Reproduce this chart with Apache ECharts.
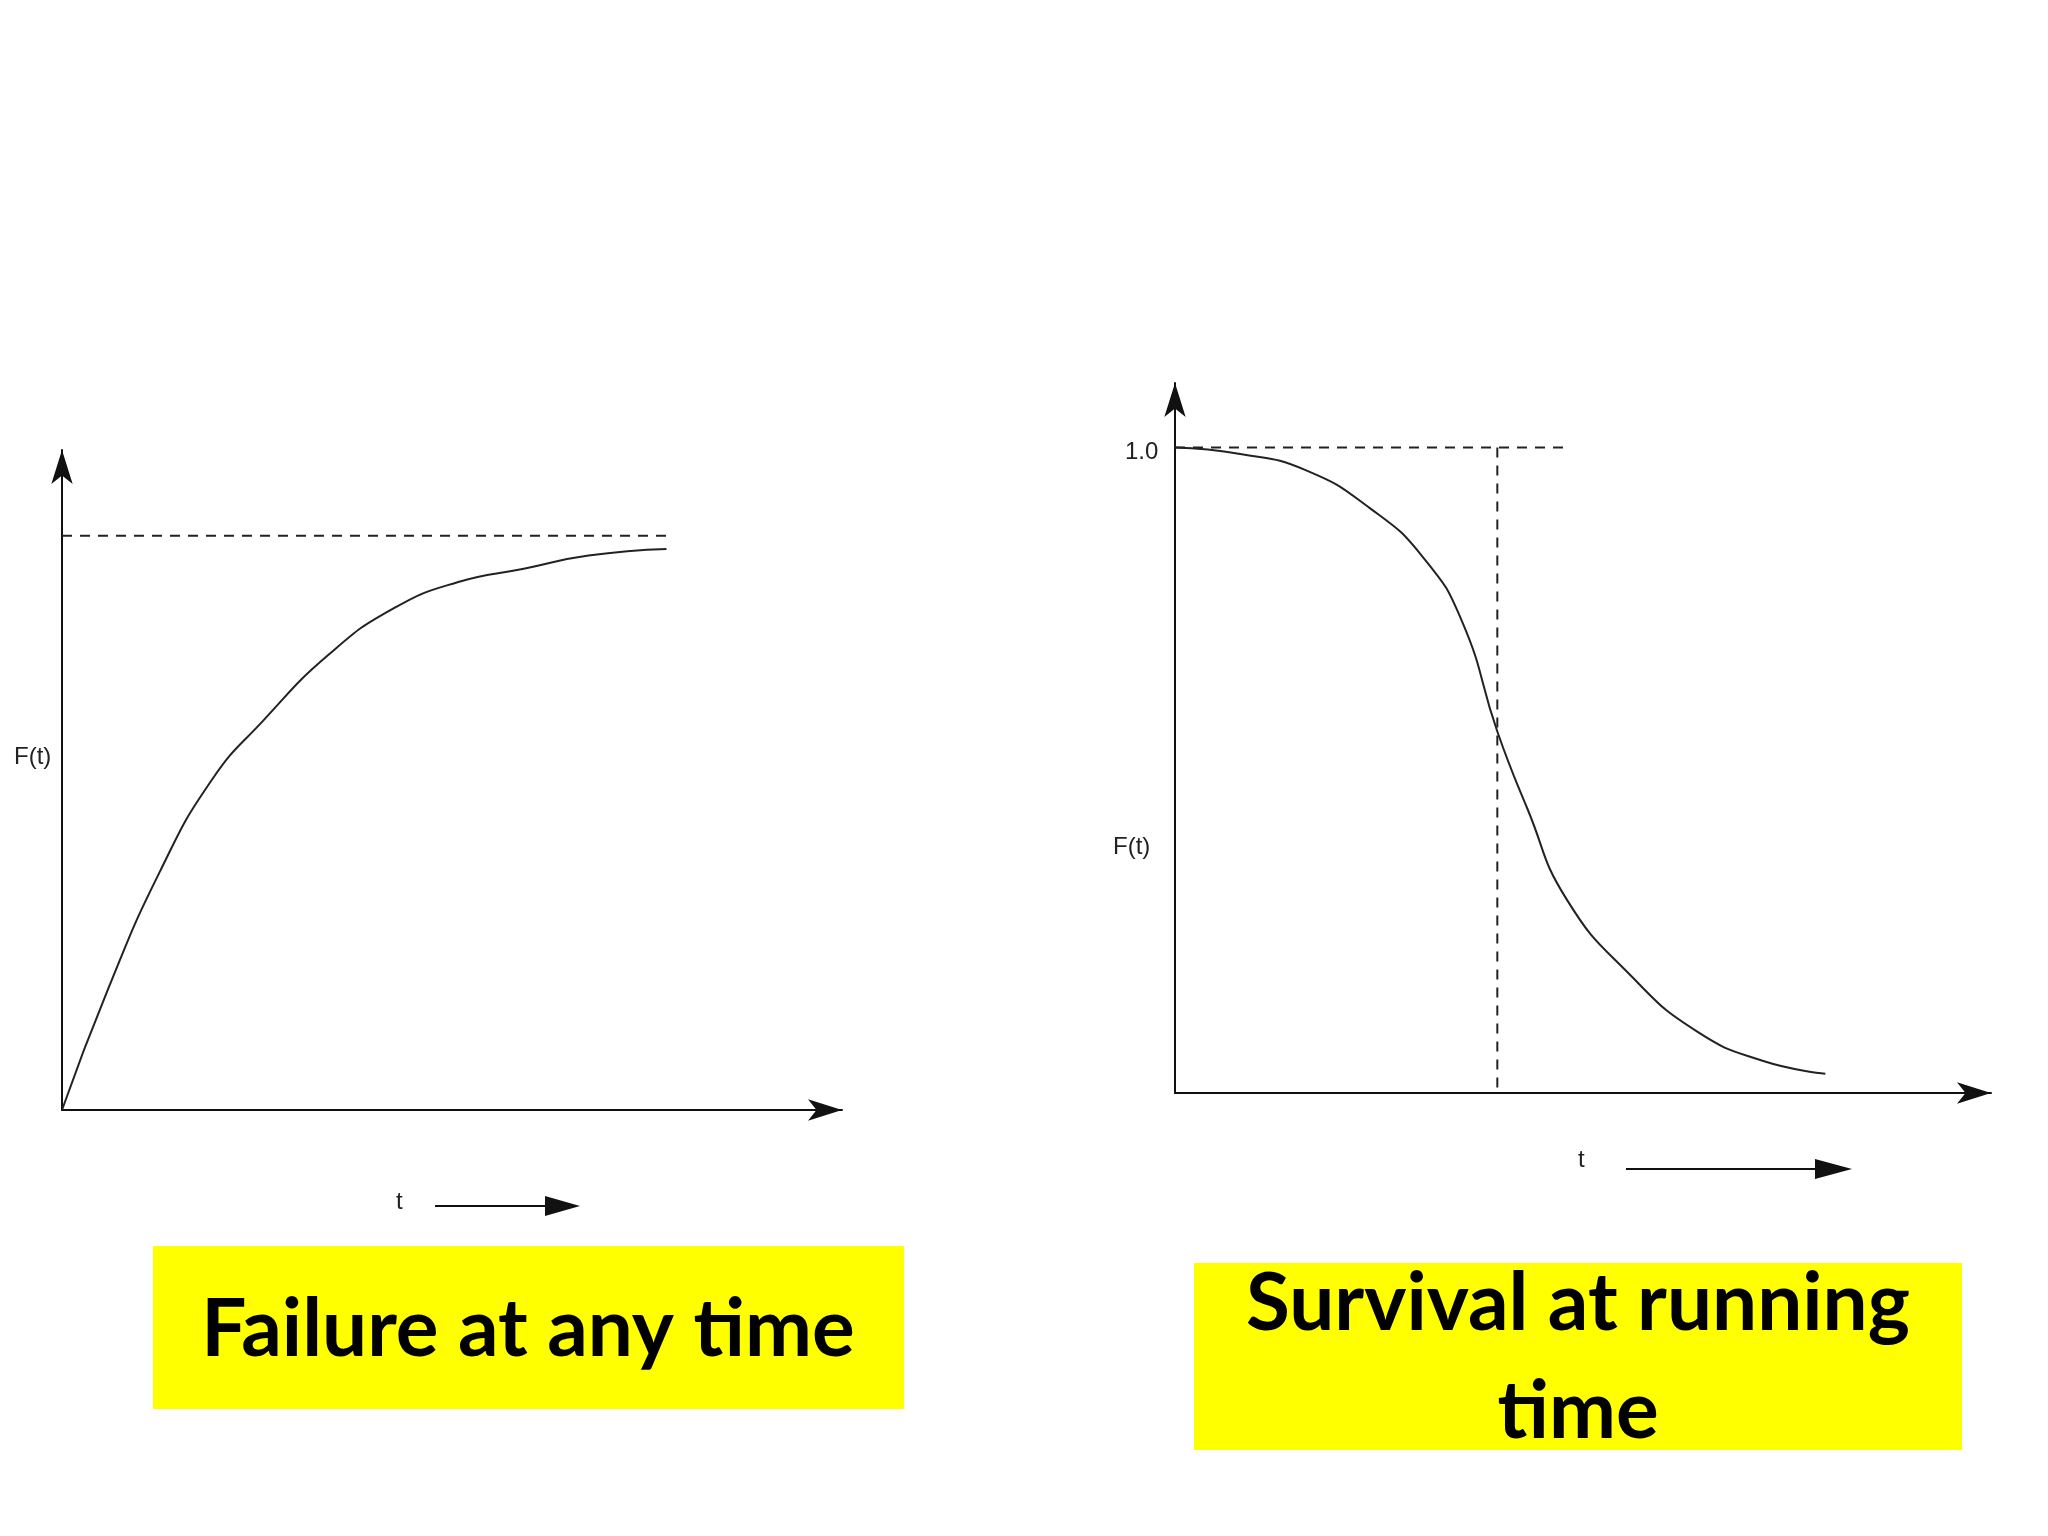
<!DOCTYPE html>
<html><head><meta charset="utf-8">
<script src="https://cdn.jsdelivr.net/npm/echarts@6/dist/echarts.min.js"></script>
<style>html,body{margin:0;background:#fff}#c{width:2048px;height:1536px}</style>
</head><body><div id="c"></div>
<script>
const failT=[0,0.58,1.25,1.92,2.58,3.42,4.25,5.08,5.92,6.75,7.75];
const failF=[0,0.18,0.36,0.50,0.59,0.69,0.76,0.80,0.82,0.84,0.85];
const failAsym=0.87;
const survT=[0,0.8,1.6,2.4,3.04,3.52,3.95,4.32,4.8,5.6,6.4,7.2,7.97];
const survF=[1.0,0.99,0.965,0.905,0.83,0.73,0.56,0.44,0.30,0.18,0.095,0.05,0.03];
const survMid=3.95, survDashEnd=4.85;
const titles=["Failure at any time","Survival at running\ntime"];
const axLine={show:true,symbol:['none','arrow'],symbolSize:[16,34],lineStyle:{color:'#111',width:2}};
const ax=(i,max)=>({gridIndex:i,type:'value',min:0,max:max,axisLine:axLine,axisTick:{show:false},axisLabel:{show:false},splitLine:{show:false}});
const ls={color:'#222',width:2};
const dash={color:'#222',width:2,type:[10,8]};
const chart=echarts.init(document.getElementById('c'));
chart.setOption({
 backgroundColor:'#fff',animation:false,
 grid:[{left:62,top:450,width:780,height:660},{left:1175,top:383,width:816,height:710}],
 xAxis:[ax(0,10),ax(1,10)],
 yAxis:[ax(0,1),ax(1,1.1)],
 series:[
  {type:'line',xAxisIndex:0,yAxisIndex:0,smooth:true,symbol:'none',lineStyle:ls,data:failT.map((t,i)=>[t,failF[i]])},
  {type:'line',xAxisIndex:0,yAxisIndex:0,symbol:'none',lineStyle:dash,data:[[0,failAsym],[failT[failT.length-1],failAsym]]},
  {type:'line',xAxisIndex:1,yAxisIndex:1,smooth:true,symbol:'none',lineStyle:ls,data:survT.map((t,i)=>[t,survF[i]])},
  {type:'line',xAxisIndex:1,yAxisIndex:1,symbol:'none',lineStyle:dash,data:[[0,1],[survDashEnd,1]]},
  {type:'line',xAxisIndex:1,yAxisIndex:1,symbol:'none',lineStyle:dash,data:[[survMid,1],[survMid,0]]}
 ],
 graphic:[
  {type:'text',left:14,top:745,style:{text:'F(t)',font:'24px "Liberation Sans"',fill:'#222'}},
  {type:'text',left:1113,top:835,style:{text:'F(t)',font:'24px "Liberation Sans"',fill:'#222'}},
  {type:'text',left:1125,top:440,style:{text:'1.0',font:'24px "Liberation Sans"',fill:'#222'}},
  {type:'text',left:396,top:1190,style:{text:'t',font:'24px "Liberation Sans"',fill:'#222'}},
  {type:'text',left:1578,top:1148,style:{text:'t',font:'24px "Liberation Sans"',fill:'#222'}},
  {type:'line',shape:{x1:435,y1:1206,x2:560,y2:1206},style:{stroke:'#111',lineWidth:2}},
  {type:'polygon',shape:{points:[[545,1196],[580,1206],[545,1216]]},style:{fill:'#111'}},
  {type:'line',shape:{x1:1626,y1:1169,x2:1830,y2:1169},style:{stroke:'#111',lineWidth:2}},
  {type:'polygon',shape:{points:[[1815,1159],[1852,1169],[1815,1179]]},style:{fill:'#111'}},
  {type:'rect',shape:{x:153,y:1246,width:751,height:163},style:{fill:'#ffff00'}},
  {type:'text',x:528,y:1330,style:{text:titles[0],font:'bold 80px Lato',fill:'#000',align:'center',verticalAlign:'middle'}},
  {type:'rect',shape:{x:1194,y:1263,width:768,height:187},style:{fill:'#ffff00'}},
  {type:'text',x:1578,y:1358,style:{text:titles[1],font:'bold 80px Lato',fill:'#000',align:'center',verticalAlign:'middle',lineHeight:108}}
 ]
});
</script></body></html>
